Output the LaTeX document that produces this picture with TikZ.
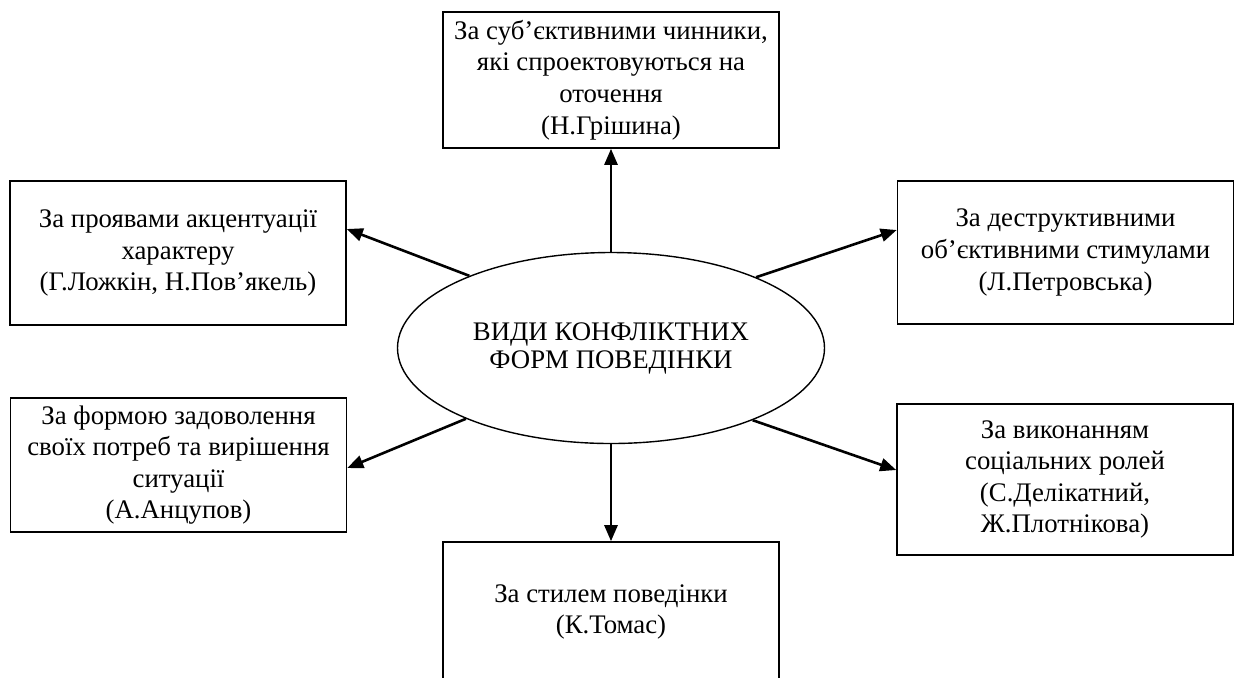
\documentclass[tikz,border=0pt]{standalone}
\usepackage{fontspec}
\setmainfont{Liberation Serif}
\usetikzlibrary{arrows.meta,shapes.geometric}

\begin{document}
\begin{tikzpicture}[x=0.5pt, y=-0.5pt, >={Triangle[length=8pt,width=6.5pt]},
	box/.style={draw, line width=0.8pt, minimum width=168pt, inner sep=0pt, align=center,
		font=\fontsize{13.4pt}{15.8pt}\selectfont},
	link/.style={->, line width=1.3pt}]
	\useasboundingbox (0,0) rectangle (1237,677);

	% Centre {ell}
	\node [draw, ellipse, line width=0.7pt, minimum width=213.5pt, minimum height=95.5pt, inner sep=0pt,
		align=center, font=\fontsize{13.4pt}{14pt}\selectfont] (ell) at (611,348)
		{ВИДИ КОНФЛІКТНИХ\\ФОРМ ПОВЕДІНКИ};

	% Boxes {grishyna, lozhkin, petrovska, antsupov, delikatnyi, tomas}
	\node [box, minimum height=68pt]   (grishyna)   at (611,80)
		{За суб’єктивними чинники,\\які спроектовуються на\\оточення\\(Н.Грішина)};
	\node [box, minimum height=72pt]   (lozhkin)    at (178,253)
		{За проявами акцентуації\\характеру\\(Г.Ложкін, Н.Пов’якель)};
	\node [box, minimum height=71.5pt] (petrovska)  at (1065.5,252.5)
		{За деструктивними\\об’єктивними стимулами\\(Л.Петровська)};
	\node [box, minimum height=67pt]   (antsupov)   at (178.5,465)
		{За формою задоволення\\своїх потреб та вирішення\\ситуації\\(А.Анцупов)};
	\node [box, minimum height=75.5pt] (delikatnyi) at (1065,479.5)
		{За виконанням\\соціальних ролей\\(С.Делікатний,\\Ж.Плотнікова)};
	\node [box, minimum height=70pt]   (tomas)      at (611,612)
		{За стилем поведінки\\(К.Томас)};

	% Paths
	\path [link] (ell.north) edge (grishyna.south);
	\path [link] (ell.153.8) edge ([yshift=12pt]lozhkin.east);
	\path [link] (ell.26.6)  edge ([yshift=11.25pt]petrovska.west);
	\path [link] (ell.206.6) edge ([yshift=-1.5pt]antsupov.east);
	\path [link] (ell.333.4) edge ([yshift=4.75pt]delikatnyi.west);
	\path [link] (ell.south) edge (tomas.north);

\end{tikzpicture}
\end{document}
